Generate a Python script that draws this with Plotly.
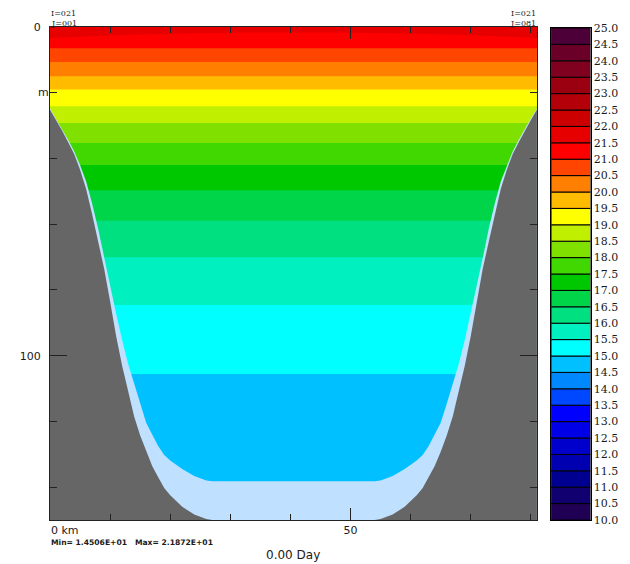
import plotly.graph_objects as go

# ---------------- colour scale (0.5 degC bands from 10.0 to 25.0) ----------------
level_lo = [10.0, 10.5, 11.0, 11.5, 12.0, 12.5, 13.0, 13.5, 14.0, 14.5,
            15.0, 15.5, 16.0, 16.5, 17.0, 17.5, 18.0, 18.5, 19.0, 19.5,
            20.0, 20.5, 21.0, 21.5, 22.0, 22.5, 23.0, 23.5, 24.0, 24.5]
band_colors = ["#200055", "#100070", "#000090", "#0000b0", "#0000cc", "#0000e6",
               "#0000ff", "#0048ff", "#0088ff", "#00c0ff", "#00ffff", "#00f0c0",
               "#00e080", "#00d448", "#00c800", "#40d800", "#80e000", "#c0f000",
               "#ffff00", "#ffbb00", "#ff8000", "#ff4500", "#ff0000", "#e60000",
               "#cc0000", "#b40008", "#9a0010", "#800020", "#6a0028", "#4d0038"]
cbar_ticks = [10.0, 10.5, 11.0, 11.5, 12.0, 12.5, 13.0, 13.5, 14.0, 14.5, 15.0,
              15.5, 16.0, 16.5, 17.0, 17.5, 18.0, 18.5, 19.0, 19.5, 20.0, 20.5,
              21.0, 21.5, 22.0, 22.5, 23.0, 23.5, 24.0, 24.5, 25.0]
cbar_labels = ["%.1f" % v for v in cbar_ticks]

# ---------------- temperature section ----------------
x_km = [0, 10, 20, 30, 40.5, 51, 61, 71, 81]
depth_m = [0, 3.3, 6.4, 10.6, 14.9, 18.9, 24.0, 29.1, 35.2, 41.8, 49.5,
           58.7, 69.8, 84.2, 104.9, 138.3, 150]
surface_temp = [21.87, 21.80, 21.74, 21.71, 21.70, 21.71, 21.74, 21.80, 21.87]
temp_3m = [21.51, 21.42, 21.36, 21.31, 21.30, 21.31, 21.36, 21.42, 21.51]
profile_temp = [21.01, 20.51, 20.01, 19.51, 19.01, 18.51, 18.01, 17.51,
                17.01, 16.51, 16.01, 15.51, 15.01, 14.51, 14.45]

z = [surface_temp, temp_3m] + [[t] * len(x_km) for t in profile_temp]

# ---------------- bathymetry (left half, distance from wall in km) ----------------
bath_dist = [0, 1, 2, 3, 4, 5, 6, 7, 8, 9, 10, 11, 12, 13, 14, 15, 16, 17, 18,
             19, 20, 22, 24, 26, 27]
bath_depth = [25.2, 28.3, 31.5, 35.0, 38.6, 43.4, 49.2, 56.9, 65.3, 73.5, 83.5,
              94.0, 103.1, 110.8, 118.5, 124.3, 129.2, 133.6, 137.0, 140.3,
              142.5, 146.0, 148.3, 149.7, 150.0]
data_bottom = [24.8, 27.8, 30.9, 34.2, 37.7, 42.0, 46.9, 53.6, 61.3, 70.2, 79.1,
               87.2, 95.2, 102.5, 108.5, 114.6, 120.4, 124.0, 127.5, 130.2,
               131.9, 134.5, 136.6, 138.0, 138.2]
X_MAX = 81.0
D_MAX = 150.0

bx = bath_dist + [X_MAX - d for d in reversed(bath_dist)]
bh = bath_depth + list(reversed(bath_depth))
bd = data_bottom + list(reversed(data_bottom))

# discrete colourscale mapped to zmin=10 .. zmax=25
cscale = []
n = len(band_colors)
for i, c in enumerate(band_colors):
    cscale.append([i / n, c])
    cscale.append([(i + 1) / n, c])

fig = go.Figure()

fig.add_trace(go.Contour(
    x=x_km, y=depth_m, z=z,
    zmin=10, zmax=25, colorscale=cscale, showscale=False,
    autocontour=False,
    contours=dict(start=10, end=25, size=0.5, coloring="fill", showlines=False),
    line=dict(width=0, smoothing=1),
    hoverinfo="skip",
))

fig.add_trace(go.Scatter(
    x=bx + [X_MAX, 0], y=bd + [D_MAX, D_MAX], fill="toself",
    fillcolor="#bfe0ff", line=dict(width=0), mode="lines",
    showlegend=False, hoverinfo="skip",
))
fig.add_trace(go.Scatter(
    x=bx + [X_MAX, 0], y=bh + [D_MAX, D_MAX], fill="toself",
    fillcolor="#666666", line=dict(width=0), mode="lines",
    showlegend=False, hoverinfo="skip",
))

# colour bar drawn as stacked bars
fig.add_trace(go.Bar(
    x=[0] * n, y=[0.5] * n, base=level_lo, width=1,
    marker=dict(color=band_colors, line=dict(color="black", width=1)),
    xaxis="x2", yaxis="y2", showlegend=False, hoverinfo="skip",
))

# The page places the figure 8 px from the top-left corner of the window.
OFF = 8
W, H = 622, 556
ml, mr, mt, mb = 35, 37, 19, 44
pw = W - ml - mr
ph = H - mt - mb


def px_x(px):
    """page x pixel -> paper fraction"""
    return min(1.0, max(0.0, (px - OFF - ml) / pw))


def px_y(py):
    """page y pixel -> paper fraction"""
    return (H - mb - (py - OFF)) / ph


def px_yd(py):
    return min(1.0, max(0.0, px_y(py)))


txt = "#1a1a1a"
fig.update_layout(
    width=W, height=H,
    margin=dict(l=ml, r=mr, t=mt, b=mb),
    paper_bgcolor="white", plot_bgcolor="white",
    barmode="overlay",
    showlegend=False,
    font=dict(family="DejaVu Sans", size=11, color=txt),
    xaxis=dict(
        domain=[0, px_x(538)], range=[0, X_MAX],
        showgrid=False, zeroline=False,
        showline=True, linecolor="#222", linewidth=1, mirror="ticks",
        ticks="inside", ticklen=12, tickcolor="#222",
        tickvals=[0, 50], ticktext=["", "50"],
        minor=dict(ticks="inside", dtick=10, tick0=0, ticklen=6, tickcolor="#222"),
        tickfont=dict(family="DejaVu Sans", size=11, color=txt),
    ),
    yaxis=dict(
        domain=[0, 1], range=[D_MAX, 0],
        showgrid=False, zeroline=False,
        showline=True, linecolor="#222", linewidth=1, mirror="ticks",
        ticks="inside", ticklen=17, tickcolor="#222",
        tickvals=[0, 100], ticktext=["0", "100"],
        minor=dict(ticks="inside", dtick=20, tick0=0, ticklen=7, tickcolor="#222"),
        ticklabelstandoff=6,
        tickfont=dict(family="DejaVu Sans", size=11, color=txt),
    ),
    xaxis2=dict(
        domain=[px_x(552.5), px_x(592.5)], range=[-0.5, 0.5], anchor="y2",
        showgrid=False, zeroline=False, showticklabels=False, ticks="",
        showline=True, linecolor="black", mirror=True,
    ),
    yaxis2=dict(
        domain=[px_yd(520.5), px_yd(28)], range=[10, 25], anchor="x2", side="right",
        showgrid=False, zeroline=False, showline=True, linecolor="black", mirror=True,
        ticks="", tickvals=cbar_ticks, ticktext=cbar_labels,
        tickfont=dict(family="DejaVu Serif", size=11, color=txt),
    ),
)

ann_font = dict(family="DejaVu Serif", size=8, color=txt)
annotations = [
    dict(text="I=021", x=0, xref="x", xanchor="left", y=px_y(13.3), yref="paper", yanchor="middle", font=ann_font),
    dict(text="J=001", x=0, xref="x", xanchor="left", y=px_y(23.8), yref="paper", yanchor="middle", font=ann_font),
    dict(text="I=021", x=X_MAX, xref="x", xanchor="right", y=px_y(13.3), yref="paper", yanchor="middle", font=ann_font),
    dict(text="J=081", x=X_MAX, xref="x", xanchor="right", y=px_y(23.8), yref="paper", yanchor="middle", font=ann_font),
    dict(text="m", x=px_x(29), xref="paper", xanchor="right", y=20, yref="y", yanchor="middle",
         font=dict(family="DejaVu Sans", size=11, color=txt)),
    dict(text="0 km", x=0, xref="x", xanchor="left", y=px_y(530), yref="paper", yanchor="middle",
         font=dict(family="DejaVu Sans", size=11, color=txt)),
    dict(text="Min= 1.4506E+01   Max= 2.1872E+01", x=0, xref="x", xanchor="left",
         y=px_y(542), yref="paper", yanchor="middle",
         font=dict(family="DejaVu Sans", size=7.6, color=txt, weight="bold")),
    dict(text="0.00 Day", x=px_x(290), xref="paper", xanchor="center",
         y=px_y(555), yref="paper", yanchor="middle",
         font=dict(family="DejaVu Sans", size=12, color=txt)),
]
for a in annotations:
    a["showarrow"] = False
    a["borderpad"] = 0
fig.update_layout(annotations=annotations)

fig.write_html("out.html")
